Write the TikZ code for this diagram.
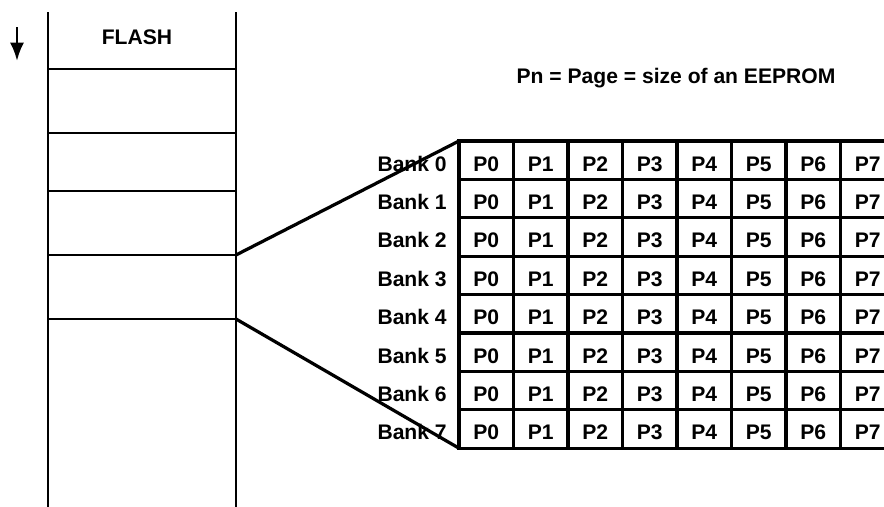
\documentclass[tikz,border=0pt]{standalone}
\usepackage{fontspec}
\setmainfont{Liberation Sans}
\usetikzlibrary{positioning,arrows.meta}

\tikzset{
	txt/.style={font=\fontsize{15}{18}\selectfont\bfseries, inner sep=0pt},
	lbl/.style={txt, text height=1.55em, text depth=0pt},
	cell/.style={lbl, draw, line width=2.2pt, outer sep=0pt, minimum width=1.3625cm, minimum height=0.96cm},
	flashline/.style={line width=1.5pt},
	link/.style={line width=2.3pt}
}

\begin{document}
\begin{tikzpicture}[x=0.025cm, y=-0.025cm]
		
		\clip (0,0) rectangle (884,507);
		
		% Flash
		\draw[-{Latex[length=13pt,width=10pt]}, line width=2pt] (17,27) -- (17,61);
		\draw[flashline] (48,12) -- (48,507);
		\draw[flashline] (236,12) -- (236,507);
		\foreach \y in {69,133,191,255,319}
			\draw[flashline] (48,\y) -- (236,\y);
		\node[txt, anchor=base] (flash) at (137,44) {FLASH};
		\coordinate (f3) at (236,255);
		\coordinate (f4) at (236,319);
		
		\node[txt, anchor=base] (title) at (676,83) {Pn = Page = size of an EEPROM};
		
		% Banks and pages
		\foreach \r in {0,...,7}{
			\foreach \c in {0,...,7}
				\node[cell] (c\r\c) at ({486.25+54.5*\c},{160.2+38.4*\r}) {P\c};
			\node[lbl, left=0.3cm of c\r0] (bank\r) {Bank \r};
		}
		
		\draw[link] (f3) -- (c00.north west);
		\draw[link] (f4) -- (c70.south west);
	\end{tikzpicture}
\end{document}
